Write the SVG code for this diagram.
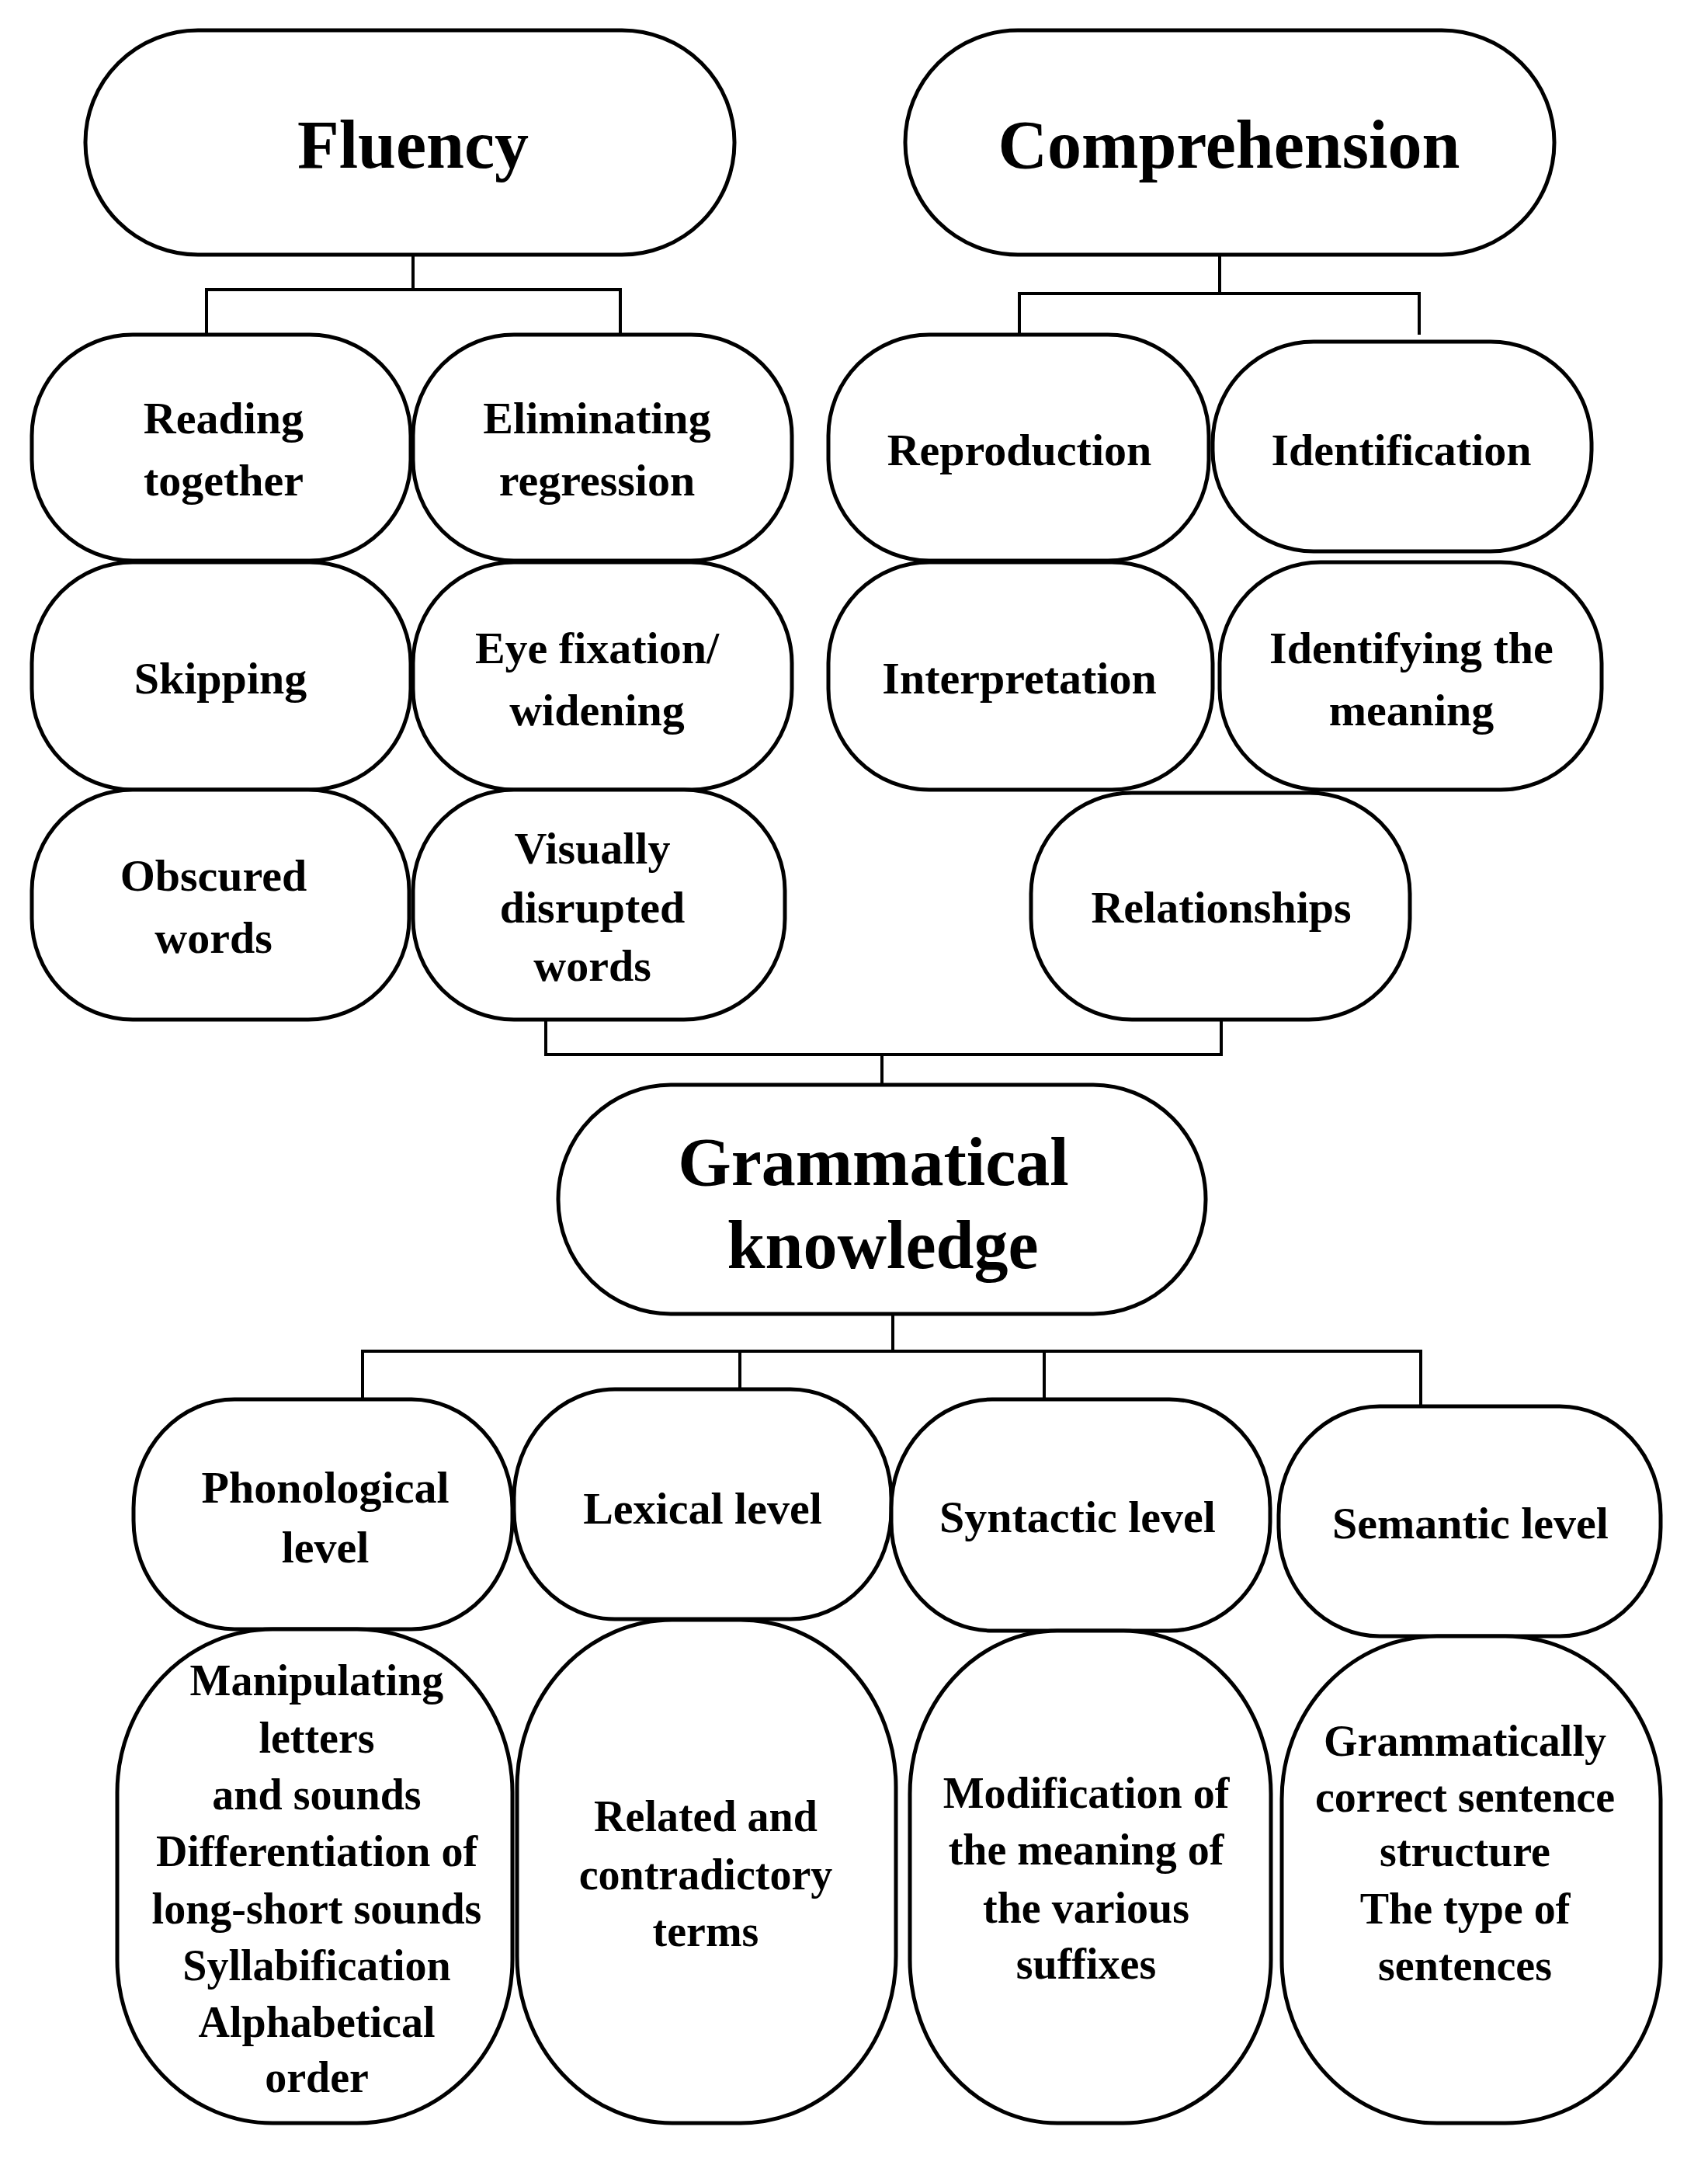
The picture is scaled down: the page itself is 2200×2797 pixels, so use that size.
<svg xmlns="http://www.w3.org/2000/svg" width="2200" height="2797" viewBox="0 0 2200 2797">
<style>
.n{fill:#fff;stroke:#000;stroke-width:5}
.c{fill:none;stroke:#000;stroke-width:4}
text{font-family:"Liberation Serif","Times New Roman",serif;font-weight:bold;text-anchor:middle;dominant-baseline:central;fill:#000}
.t{font-size:88px}.m{font-size:58px}.s{font-size:56px}
</style>
<rect width="2200" height="2797" fill="#fff"/>
<g id="connectors">
<path class="c" d="M532 328V373M266 431V373H799V431"/>
<path class="c" d="M1571 328V378M1313 431V378H1828V431"/>
<path class="c" d="M703 1313V1358H1573V1313M1136 1358V1397"/>
<path class="c" d="M1150 1692V1740M467 1805V1740H1830V1811M953 1740V1790M1345 1740V1803"/>
</g>
<g id="fluency"><rect class="n" x="110" y="39" width="836" height="289" rx="145" ry="144"/><text class="t" x="532" y="186">Fluency</text></g>
<g id="comprehension"><rect class="n" x="1166" y="39" width="836" height="289" rx="145" ry="144"/><text class="t" x="1583" y="186">Comprehension</text></g>
<g id="reading"><rect class="n" x="41" y="431" width="488" height="291" rx="130" ry="130"/><text class="m" x="288" y="538">Reading</text><text class="m" x="288" y="618">together</text></g>
<g id="eliminating"><rect class="n" x="532" y="431" width="488" height="291" rx="130" ry="130"/><text class="m" x="769" y="538">Eliminating</text><text class="m" x="769" y="618">regression</text></g>
<g id="skipping"><rect class="n" x="41" y="724" width="488" height="293" rx="130" ry="130"/><text class="m" x="284" y="873">Skipping</text></g>
<g id="eye"><rect class="n" x="532" y="724" width="488" height="293" rx="130" ry="130"/><text class="m" x="769" y="834">Eye fixation/</text><text class="m" x="769" y="914">widening</text></g>
<g id="obscured"><rect class="n" x="41" y="1017" width="486" height="296" rx="130" ry="130"/><text class="m" x="275" y="1127">Obscured</text><text class="m" x="275" y="1207">words</text></g>
<g id="visually"><rect class="n" x="532" y="1017" width="479" height="296" rx="130" ry="130"/><text class="m" x="763" y="1092">Visually</text><text class="m" x="763" y="1168">disrupted</text><text class="m" x="763" y="1243">words</text></g>
<g id="reproduction"><rect class="n" x="1067" y="431" width="490" height="291" rx="130" ry="130"/><text class="m" x="1313" y="579">Reproduction</text></g>
<g id="identification"><rect class="n" x="1562" y="440" width="488" height="270" rx="130" ry="130"/><text class="m" x="1805" y="579">Identification</text></g>
<g id="interpretation"><rect class="n" x="1067" y="724" width="495" height="293" rx="130" ry="130"/><text class="m" x="1313" y="873">Interpretation</text></g>
<g id="identifying"><rect class="n" x="1571" y="724" width="492" height="293" rx="130" ry="130"/><text class="m" x="1818" y="834">Identifying the</text><text class="m" x="1818" y="914">meaning</text></g>
<g id="relationships"><rect class="n" x="1328" y="1021" width="488" height="292" rx="130" ry="130"/><text class="m" x="1573" y="1168">Relationships</text></g>
<g id="grammatical"><rect class="n" x="719" y="1397" width="834" height="295" rx="145" ry="147"/><text class="t" x="1125" y="1496">Grammatical</text><text class="t" x="1137" y="1603">knowledge</text></g>
<g id="phonological"><rect class="n" x="172" y="1802" width="488" height="296" rx="130" ry="140"/><text class="m" x="419" y="1915">Phonological</text><text class="m" x="419" y="1992">level</text></g>
<g id="lexical"><rect class="n" x="662" y="1789" width="486" height="296" rx="130" ry="140"/><text class="m" x="905" y="1942">Lexical level</text></g>
<g id="syntactic"><rect class="n" x="1148" y="1802" width="488" height="298" rx="130" ry="140"/><text class="m" x="1388" y="1953">Syntactic level</text></g>
<g id="semantic"><rect class="n" x="1647" y="1811" width="492" height="296" rx="130" ry="140"/><text class="m" x="1894" y="1961">Semantic level</text></g>
<g id="phon-detail"><rect class="n" x="151" y="2098" width="509" height="636" rx="200" ry="210"/>
<text class="s" x="408" y="2164">Manipulating</text><text class="s" x="408" y="2238">letters</text><text class="s" x="408" y="2311">and sounds</text><text class="s" x="408" y="2384">Differentiation of</text><text class="s" x="408" y="2458">long-short sounds</text><text class="s" x="408" y="2531">Syllabification</text><text class="s" x="408" y="2604">Alphabetical</text><text class="s" x="408" y="2675">order</text></g>
<g id="lex-detail"><rect class="n" x="666" y="2086" width="488" height="648" rx="200" ry="215"/>
<text class="s" x="909" y="2339">Related and</text><text class="s" x="909" y="2414">contradictory</text><text class="s" x="909" y="2487">terms</text></g>
<g id="syn-detail"><rect class="n" x="1172" y="2100" width="465" height="634" rx="190" ry="210"/>
<text class="s" x="1399" y="2309">Modification of</text><text class="s" x="1399" y="2382">the meaning of</text><text class="s" x="1399" y="2457">the various</text><text class="s" x="1399" y="2529">suffixes</text></g>
<g id="sem-detail"><rect class="n" x="1651" y="2107" width="488" height="627" rx="200" ry="210"/>
<text class="s" x="1887" y="2242">Grammatically</text><text class="s" x="1887" y="2314">correct sentence</text><text class="s" x="1887" y="2384">structure</text><text class="s" x="1887" y="2458">The type of</text><text class="s" x="1887" y="2531">sentences</text></g>
</svg>
